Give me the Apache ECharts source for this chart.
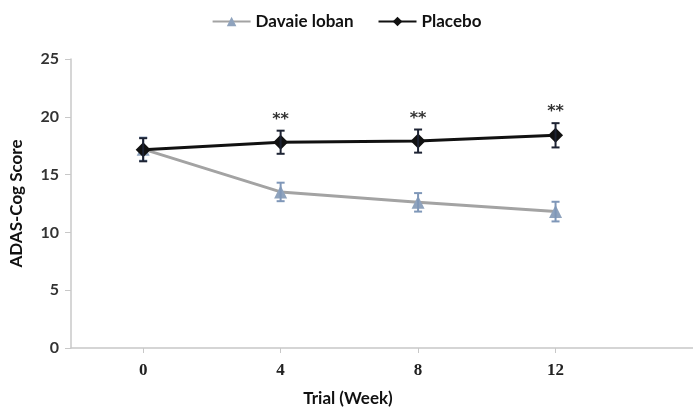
<!DOCTYPE html>
<html><head><meta charset="utf-8">
<script src="https://cdn.jsdelivr.net/npm/echarts@6/dist/echarts.min.js"></script>
<style>html,body{margin:0;padding:0;background:#fff}#c{width:693px;height:412px}</style>
</head><body><div id="c"></div>
<script>
var weeks = [0, 4, 8, 12];
var xTickLabels = ['0', '4', '8', '12'];
var yTicks = [0, 5, 10, 15, 20, 25];
var davaieMean = [17.2, 13.5, 12.6, 11.8];
var davaieErr = [1.0, 0.8, 0.8, 0.85];
var placeboMean = [17.15, 17.8, 17.9, 18.4];
var placeboErr = [1.0, 1.0, 1.0, 1.05];
var placeboSig = ['', '**', '**', '**'];

function pairs(m){ return weeks.map(function(w,i){ return [w, m[i]]; }); }
function errData(m, e, sig){ return weeks.map(function(w,i){ return [w, m[i]-e[i], m[i]+e[i], sig ? sig[i] : '']; }); }
function errRender(color){
  return function(params, api){
    var x = api.value(0), lo = api.value(1), hi = api.value(2), s = api.value(3);
    var p1 = api.coord([x, lo]), p2 = api.coord([x, hi]);
    var hw = 4;
    var children = [
      {type:'line', shape:{x1:p1[0],y1:p1[1],x2:p2[0],y2:p2[1]}, style:{stroke:color,lineWidth:2}},
      {type:'line', shape:{x1:p1[0]-hw,y1:p1[1],x2:p1[0]+hw,y2:p1[1]}, style:{stroke:color,lineWidth:2}},
      {type:'line', shape:{x1:p2[0]-hw,y1:p2[1],x2:p2[0]+hw,y2:p2[1]}, style:{stroke:color,lineWidth:2}}
    ];
    if (s) children.push({type:'text', style:{text:String(s), x:p2[0], y:p2[1]-3, align:'center', verticalAlign:'bottom', font:'bold 16px "DejaVu Sans"', fill:'#333'}});
    return {type:'group', children:children};
  };
}

var chart = echarts.init(document.getElementById('c'), null, {renderer:'canvas'});
chart.setOption({
  animation:false,
  legend:{
    top:8, left:'center', itemWidth:38, itemHeight:12, itemGap:24,
    textStyle:{fontFamily:'Lato', fontWeight:'bold', fontSize:17, color:'#111'},
    data:['Davaie loban','Placebo']
  },
  grid:{left:67, right:0, top:59, bottom:60},
  xAxis:{
    type:'value', min:-2.1, max:16,
    name:'Trial (Week)', nameLocation:'middle', nameGap:42,
    nameTextStyle:{fontFamily:'Lato', fontWeight:'bold', fontSize:17, color:'#111', padding:[0,0,0,-68]},
    axisLine:{show:true, lineStyle:{color:'#c8c8c8', width:1.5}},
    axisTick:{show:true, customValues:weeks, length:5, inside:false, lineStyle:{color:'#c8c8c8'}},
    axisLabel:{customValues:weeks, formatter:function(v){ return xTickLabels[weeks.indexOf(v)]; }, margin:14,
      fontFamily:'Liberation Serif', fontWeight:'bold', fontSize:17, color:'#222'},
    splitLine:{show:false}
  },
  yAxis:{
    type:'value', min:0, max:25, interval:5,
    name:'ADAS-Cog Score', nameLocation:'middle', nameGap:46,
    nameTextStyle:{fontFamily:'Lato', fontWeight:'bold', fontSize:17, color:'#111'},
    axisLine:{show:true, onZero:false, lineStyle:{color:'#c8c8c8', width:1.5}},
    axisTick:{show:true, length:6, lineStyle:{color:'#c8c8c8'}},
    axisLabel:{margin:12, fontFamily:'Lato', fontWeight:'bold', fontSize:16, color:'#333',
      formatter:function(v){ return yTicks.indexOf(v) >= 0 ? String(v) : ''; }},
    splitLine:{show:false}
  },
  series:[
    {name:'Davaie loban', type:'line', data:pairs(davaieMean), symbol:'triangle', symbolSize:13,
     lineStyle:{color:'#a3a3a3', width:3}, itemStyle:{color:'#8fa3bd'}, z:2},
    {name:'Davaie loban err', type:'custom', data:errData(davaieMean, davaieErr), renderItem:errRender('#7f97b8'), z:3, silent:true},
    {name:'Placebo', type:'line', data:pairs(placeboMean), symbol:'diamond', symbolSize:15,
     lineStyle:{color:'#111', width:3}, itemStyle:{color:'#111'}, z:5},
    {name:'Placebo err', type:'custom', data:errData(placeboMean, placeboErr, placeboSig), renderItem:errRender('#1d2333'), z:6, silent:true}
  ]
});
</script></body></html>
